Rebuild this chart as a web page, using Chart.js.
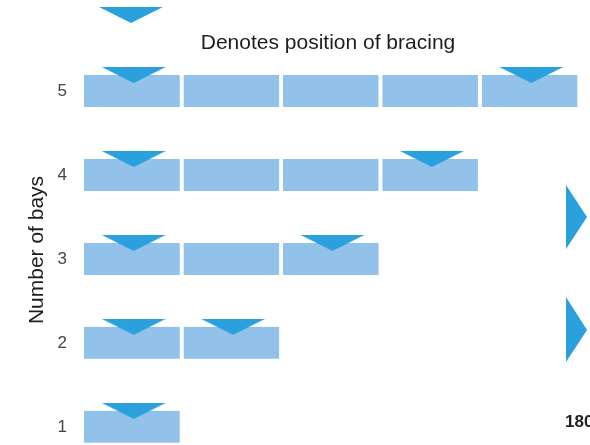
<!DOCTYPE html>
<html>
<head>
<meta charset="utf-8">
<script src="https://cdn.jsdelivr.net/npm/chart.js@4.4.1/dist/chart.umd.min.js"></script>
<style>
  html, body { margin: 0; padding: 0; background: #fff; overflow: hidden; }
  /* taller than the window on purpose: the bottom row is cut off in the original */
  #wrap { position: relative; width: 590px; height: 479px; }
</style>
</head>
<body>
<div id="wrap"><canvas id="bays"></canvas></div>
<script>
// rows of the figure, top to bottom
const rowLabels = ['5', '4', '3', '2', '1'];
const bayCounts = [5, 4, 3, 2, 1];
// which bays carry bracing in each row (1 = first bay on the left)
const bracedBays = [[1, 5], [1, 4], [1, 3], [1, 2], [1]];
const maxBays = 5;

const legendText = 'Denotes position of bracing';
const axisTitle = 'Number of bays';
const cutLabel = '180';

const barBlue = '#92c1e9';
const braceBlue = '#2aa1dd';

// flat downward triangle; sits in the top half of the image so it lands on the bar's top edge
function makeMarker() {
  const c = document.createElement('canvas');
  c.width = 64;
  c.height = 48;
  const g = c.getContext('2d');
  g.fillStyle = braceBlue;
  g.beginPath();
  g.moveTo(0, 0);
  g.lineTo(64, 0);
  g.lineTo(32, 16);
  g.closePath();
  g.fill();
  return c;
}
const marker = makeMarker();

const bayDatasets = [];
for (let b = 1; b <= maxBays; b++) {
  bayDatasets.push({
    type: 'bar',
    label: 'Bay ' + b,
    indexAxis: 'y',
    data: bayCounts.map(n => (n >= b ? 1 : null)),
    backgroundColor: barBlue,
    borderColor: '#ffffff',
    borderWidth: { left: 0, right: 4, top: 0, bottom: 0 },
    borderSkipped: false,
    barThickness: 32,
    order: 2
  });
}

const bracePoints = [];
bracedBays.forEach((bays, i) => {
  bays.forEach(b => bracePoints.push({ x: b - 0.5, y: rowLabels[i] }));
});

const extras = {
  id: 'extras',
  afterDraw(chart) {
    const ctx = chart.ctx;
    ctx.save();
    // legend
    ctx.drawImage(marker, 99, 7);
    ctx.fillStyle = '#1e1e1e';
    ctx.font = '21px "Liberation Sans", Arial, sans-serif';
    ctx.textAlign = 'center';
    ctx.textBaseline = 'alphabetic';
    ctx.fillText(legendText, 328, 49);

    // cut-off pieces of the neighbouring figure on the right
    ctx.fillStyle = braceBlue;
    ctx.beginPath();
    ctx.moveTo(566, 185); ctx.lineTo(587, 217); ctx.lineTo(566, 249);
    ctx.closePath();
    ctx.fill();
    ctx.beginPath();
    ctx.moveTo(566, 297); ctx.lineTo(587, 330); ctx.lineTo(566, 362);
    ctx.closePath();
    ctx.fill();
    ctx.fillStyle = '#222';
    ctx.font = 'bold 17px "Liberation Sans", Arial, sans-serif';
    ctx.textAlign = 'left';
    ctx.fillText(cutLabel, 565, 427);

    // y axis title
    ctx.translate(37, 250);
    ctx.rotate(-Math.PI / 2);
    ctx.fillStyle = '#1e1e1e';
    ctx.font = '21px "Liberation Sans", Arial, sans-serif';
    ctx.textAlign = 'center';
    ctx.textBaseline = 'middle';
    ctx.fillText(axisTitle, 0, 0);
    ctx.restore();
  }
};

new Chart(document.getElementById('bays').getContext('2d'), {
  type: 'bar',
  data: {
    labels: rowLabels,
    datasets: [
      {
        type: 'scatter',
        label: legendText,
        data: bracePoints,
        pointStyle: marker,
        order: 1
      },
      ...bayDatasets
    ]
  },
  options: {
    indexAxis: 'y',
    responsive: true,
    maintainAspectRatio: false,
    animation: false,
    layout: { padding: { left: 0, right: 9, top: 49, bottom: 0 } },
    plugins: {
      legend: { display: false },
      tooltip: { enabled: false }
    },
    scales: {
      x: { type: 'linear', min: 0, max: maxBays, stacked: true, display: false },
      y: {
        type: 'category',
        labels: rowLabels,
        stacked: true,
        offset: true,
        // gap to the bars comes from the (invisible) tick length so it adds no vertical padding
        grid: { display: false, drawTicks: true, tickLength: 17 },
        border: { display: false },
        ticks: {
          color: '#444',
          padding: 0,
          font: { family: '"Liberation Sans", Arial, sans-serif', size: 17 }
        },
        afterFit: scale => { scale.width = 84; }
      }
    }
  },
  plugins: [extras]
});
</script>
</body>
</html>
